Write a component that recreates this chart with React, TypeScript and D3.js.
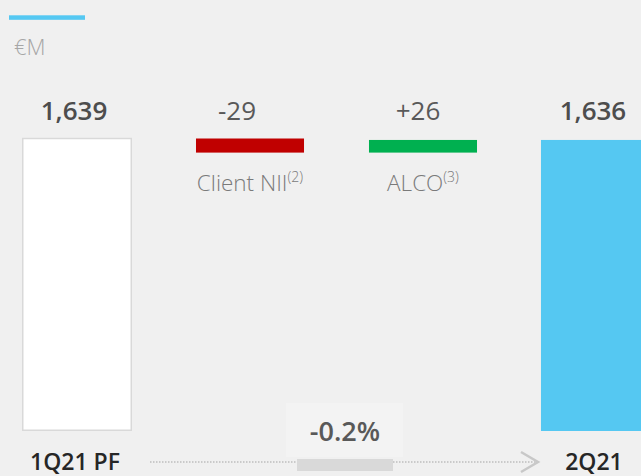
import React from "react";
import * as d3 from "d3";

const categories = ["1Q21 PF", "Client NII", "ALCO", "2Q21"];
const footnotes = ["", "(2)", "(3)", ""];
const values = [1639, -29, 26, 1636];
const kinds = ["total", "delta", "delta", "total"];
const valueLabels = ["1,639", "-29", "+26", "1,636"];
const changeLabel = "-0.2%";
const unitLabel = "€M";

const W = 641;
const H = 476;
const FONT = "'Open Sans', 'Noto Sans', sans-serif";

export default function App() {
  // waterfall steps
  let running = 0;
  const steps = values.map((v, i) => {
    if (kinds[i] === "total") {
      running = v;
      return { start: 0, end: v };
    }
    const s = running;
    running = running + v;
    return { start: s, end: running };
  });

  const x = d3.scaleBand<string>().domain(categories).range([22, 651]).paddingInner(0.364).paddingOuter(0);
  const base = 431;
  // broken axis: tops of bars are drawn on a magnified scale
  const yz = d3.scaleLinear().domain([1610, 1639]).range([152.6, 138.5]);

  const bw = x.bandwidth();

  return (
    <svg
      width={W}
      height={H}
      style={{ position: "fixed", left: 0, top: 0, background: "#f0f0f0", display: "block" }}
      fontFamily={FONT}
    >
      <rect x={0} y={0} width={W} height={H} fill="#f0f0f0" />
      {/* title accent line */}
      <rect x={9} y={15.3} width={76} height={4.5} fill="#55c8f2" />
      <text x={14} y={55} fontSize={22} fill="#a6a6a6" fontWeight={300}>
        {unitLabel}
      </text>

      {categories.map((c, i) => {
        const bx = x(c)!;
        const cx = bx + bw / 2;
        const st = steps[i];
        if (kinds[i] === "total") {
          const top = yz(st.end);
          const isFirst = i === 0;
          return (
            <g key={c}>
              <rect
                x={isFirst ? bx + 0.75 : bx}
                y={top}
                width={isFirst ? bw - 1.5 : bw}
                height={base - top - (isFirst ? 0.75 : 0)}
                fill={isFirst ? "#ffffff" : "#55c8f2"}
                stroke={isFirst ? "#d9d9d9" : "none"}
                strokeWidth={1.5}
              />
              <text x={cx - 3} y={120} textAnchor="middle" fontSize={26} fontWeight={600} fill="#4d4d4d">
                {valueLabels[i]}
              </text>
              <text x={cx - 2} y={470} textAnchor="middle" fontSize={23} fontWeight={600} fill="#262626">
                {c}
              </text>
            </g>
          );
        }
        const y1 = yz(Math.max(st.start, st.end));
        const y2 = yz(Math.min(st.start, st.end));
        const color = values[i] < 0 ? "#c00000" : "#00b050";
        return (
          <g key={c}>
            <rect x={bx + 1} y={y1} width={bw - 2} height={y2 - y1} fill={color} />
            <text x={cx - (values[i] < 0 ? 13 : 5)} y={120} textAnchor="middle" fontSize={26} fontWeight={400} fill="#595959">
              {valueLabels[i]}
            </text>
            <text x={cx} y={y2 + 38} textAnchor="middle" fontSize={22.5} fontWeight={300} fill="#7a7a7a">
              {c}
              <tspan fontSize={14} dy={-9}>
                {footnotes[i]}
              </tspan>
            </text>
          </g>
        );
      })}

      {/* change indicator */}
      <rect x={286} y={403} width={117} height={54} fill="#f3f3f3" />
      <line x1={150} x2={536} y1={462} y2={462} stroke="#bdbdbd" strokeWidth={1.5} strokeDasharray="1.5 1.5" />
      <rect x={297} y={459} width={96} height={12} fill="#d9d9d9" />
      <polyline points="521,452 538,462 521,472" fill="none" stroke="#c8c8c8" strokeWidth={2.5} />
      <text x={345} y={441} textAnchor="middle" fontSize={27} fontWeight={600} fill="#595959">
        {changeLabel}
      </text>
    </svg>
  );
}
